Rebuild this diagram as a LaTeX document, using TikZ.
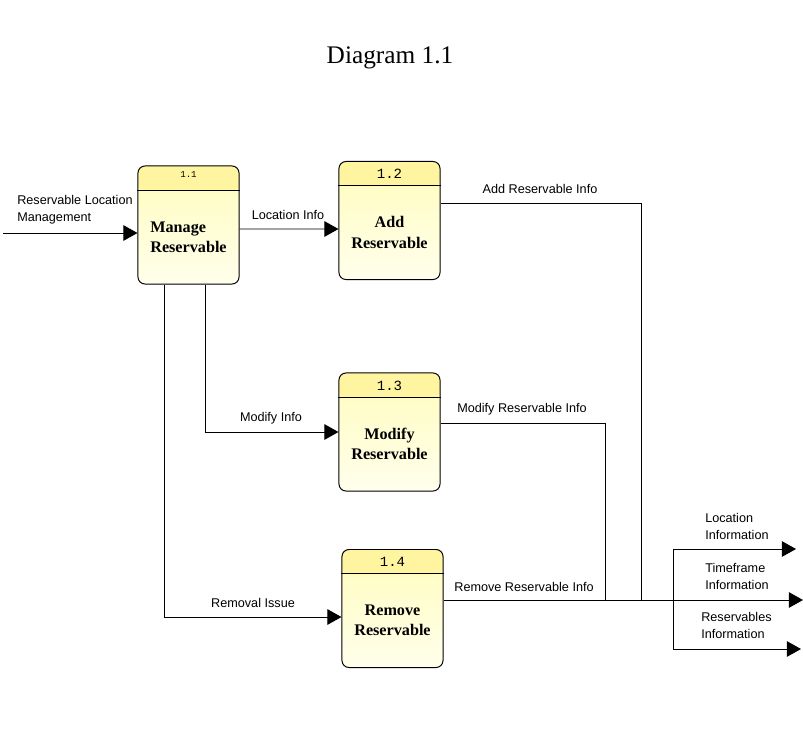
\documentclass[tikz,border=0pt]{standalone}
\usepackage{fontspec}
\setmainfont{Liberation Serif}
\setsansfont{Liberation Sans}
\setmonofont{Liberation Mono}
\usetikzlibrary{arrows.meta}

\definecolor{hdryellow}{RGB}{255,244,160}
\definecolor{bodytop}{RGB}{255,252,188}
\definecolor{bodybot}{RGB}{255,255,236}

\begin{document}
\begin{tikzpicture}[x=0.025cm, y=-0.025cm,
		procbox/.style={draw, line width=0.7pt, rounded corners=5pt,
			minimum width=2.525cm, minimum height=2.95cm,
			top color=bodytop, bottom color=bodybot,
			path picture={\fill[hdryellow] (path picture bounding box.north west)
				rectangle ([yshift=-0.62cm]path picture bounding box.north east);}},
		numlbl/.style={font=\ttfamily\fontsize{10}{12}\selectfont, inner sep=0pt},
		boxtext/.style={font=\bfseries\fontsize{11.5}{14.5}\selectfont, align=center, inner sep=0pt},
		lbl/.style={font=\sffamily\fontsize{9}{12}\selectfont, inner sep=0pt},
		flow/.style={line width=0.7pt, -{Triangle[length=10pt,width=11pt]}},
		wire/.style={line width=0.7pt}]
				\useasboundingbox (0,0) rectangle (803,731);
				% Title
				\node[font=\fontsize{18}{22}\selectfont] (title) at (390,58) {Diagram 1.1};
				% Process boxes
				\node[procbox] (manage) at (188.5,225) {};
				\node[procbox] (add) at (389.5,220.5) {};
				\node[procbox] (modify) at (389.5,432) {};
				\node[procbox] (remove) at (392.5,608.5) {};
				\foreach \b in {manage,add,modify,remove}
					\draw[line width=0.6pt] ([yshift=-0.62cm]\b.north west) -- ([yshift=-0.62cm]\b.north east);
				% Box numbers
				\node[numlbl, font=\ttfamily\fontsize{6.5}{8}\selectfont] (managenum) at ([shift={(0,9)}]manage.north) {1.1};
				\node[numlbl] (addnum) at ([shift={(0,13)}]add.north) {1.2};
				\node[numlbl] (modifynum) at ([shift={(0,13)}]modify.north) {1.3};
				\node[numlbl] (removenum) at ([shift={(0,13)}]remove.north) {1.4};
				% Box texts
				\node[boxtext, align=left] (managetxt) at ([shift={(0,12)}]manage.center) {Manage\\Reservable};
				\node[boxtext] (addtxt) at ([shift={(0,12)}]add.center) {Add\\Reservable};
				\node[boxtext] (modifytxt) at ([shift={(0,12)}]modify.center) {Modify\\Reservable};
				\node[boxtext] (removetxt) at ([shift={(0,12)}]remove.center) {Remove\\Reservable};
				% Join points
				\coordinate (src) at (3,233);
				\coordinate (joinA) at (641,600);
				\coordinate (joinB) at (605,600);
				\coordinate (split) at (673,600);
				\coordinate (outA) at (796,549);
				\coordinate (outB) at (803,600);
				\coordinate (outC) at (801,649);
				% Flows
				\draw[flow] (src) -- (src -| manage.west);
				\draw[flow] ([shift={(0,4)}]manage.east) -- ([shift={(0,8.5)}]add.west);
				\draw[flow] ([shift={(16.5,0)}]manage.south) |- (modify.west);
				\draw[flow] ([shift={(-24.5,0)}]manage.south) |- ([shift={(0,8.5)}]remove.west);
				\draw[wire] ([shift={(0,-17.5)}]add.east) -| (joinA);
				\draw[wire] ([shift={(0,-9)}]modify.east) -| (joinB);
				\draw[wire] ([shift={(0,-8.5)}]remove.east) -- (split);
				\draw[flow] (split) |- (outA);
				\draw[flow] (split) -- (outB);
				\draw[flow] (split) |- (outC);
				% Flow labels
				\node[lbl, anchor=west, align=left] (srclbl) at (17,209.5) {Reservable Location\\Management};
				\node[lbl] (loclbl) at (288,215) {Location Info};
				\node[lbl] (addlbl) at (540,189) {Add Reservable Info};
				\node[lbl] (modlbl) at (271,418) {Modify Info};
				\node[lbl] (modrlbl) at (522,409) {Modify Reservable Info};
				\node[lbl] (remlbl) at (253,603) {Removal Issue};
				\node[lbl] (remrlbl) at (524,587) {Remove Reservable Info};
				\node[lbl, anchor=west, align=left] (outAlbl) at (705,526.5) {Location\\Information};
				\node[lbl, anchor=west, align=left] (outBlbl) at (705,576.5) {Timeframe\\Information};
				\node[lbl, anchor=west, align=left] (outClbl) at (701,625.5) {Reservables\\Information};
			\end{tikzpicture}
\end{document}
